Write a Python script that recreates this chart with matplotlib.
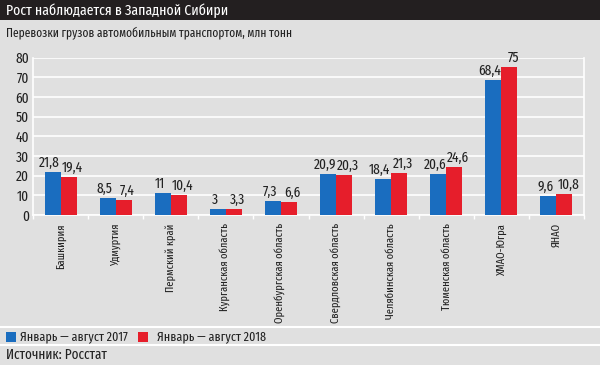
import matplotlib
matplotlib.use("Agg")
import matplotlib.pyplot as plt
import numpy as np

plt.rcParams['font.family'] = ['Fira Sans Extra Condensed', 'Fira Sans Condensed', 'DejaVu Sans']

regions = ["Башкирия", "Удмуртия", "Пермский край", "Курганская область",
           "Оренбургская область", "Свердловская область", "Челябинская область",
           "Тюменская область", "ХМАО-Югра", "ЯНАО"]
v2017 = [21.8, 8.5, 11, 3, 7.3, 20.9, 18.4, 20.6, 68.4, 9.6]
v2018 = [19.4, 7.4, 10.4, 3.3, 6.6, 20.3, 21.3, 24.6, 75, 10.8]
yticks = [0, 10, 20, 30, 40, 50, 60, 70, 80]

bg = '#e0e0e0'
blue = '#1a6dbf'
red = '#e61e2b'
ink = '#222222'
W, H = 600, 365

fig = plt.figure(figsize=(6, 3.65), dpi=100, facecolor=bg)

# title bar
fig.patches.append(plt.Rectangle((0, 1 - 20 / H), 1, 20 / H, transform=fig.transFigure,
                                 facecolor='#231f20', edgecolor='none'))
fig.text(6 / W, 1 - 10.5 / H, "Рост наблюдается в Западной Сибири", color='white',
         fontsize=10.8, va='center', ha='left')
fig.text(6 / W, 1 - 33 / H, "Перевозки грузов автомобильным транспортом, млн тонн",
         color=ink, fontsize=9, va='center', ha='left')

ax = fig.add_axes([33 / W, 1 - 215 / H, (584 - 33) / W, (215 - 57.5) / H])
ax.set_facecolor(bg)
x = np.arange(len(regions))
w = 0.29
b1 = ax.bar(x - w / 2, v2017, w, color=blue, zorder=3)
b2 = ax.bar(x + w / 2, v2018, w, color=red, zorder=3)

def fmt(v):
    return ("%g" % v).replace('.', ',')

for bars, vals, dx in ((b1, v2017, -0.06), (b2, v2018, 0.07)):
    for r, v in zip(bars, vals):
        ax.text(r.get_x() + r.get_width() / 2 + dx, v + 1, fmt(v), ha='center', va='bottom',
                fontsize=10.5, color=ink, zorder=4)

ax.set_xlim(-0.5, len(regions) - 0.5)
ax.set_ylim(0, 80)
ax.set_yticks(yticks)
ax.set_yticklabels([str(t) for t in yticks], fontsize=10.5, color=ink)
ax.yaxis.grid(True, color='white', linewidth=1.2, zorder=0)
ax.tick_params(axis='y', length=0, pad=3)
ax.set_xticks(x)
ax.set_xticklabels(regions, rotation=90, fontsize=8.2, color=ink, va='top')
ax.tick_params(axis='x', length=0, pad=6)
ax.set_xticks(np.arange(-0.5, len(regions)), minor=True)
ax.tick_params(axis='x', which='minor', length=3, color='white', width=1)
ax.spines['top'].set_visible(False)
for s in ('left', 'right', 'bottom'):
    ax.spines[s].set_color('white')
    ax.spines[s].set_linewidth(1.2)

# separators
for yy in (327, 345):
    fig.add_artist(plt.Line2D([0, 1], [1 - yy / H, 1 - yy / H], transform=fig.transFigure,
                              color='white', linewidth=1.5))

# legend
ly = 1 - 336.5 / H
fig.patches.append(plt.Rectangle((6 / W, ly - 5 / H), 10 / W, 10 / H, transform=fig.transFigure,
                                 facecolor=blue, edgecolor='none'))
fig.text(20 / W, ly, "Январь — август 2017", fontsize=9.4, va='center', ha='left', color=ink)
fig.patches.append(plt.Rectangle((138 / W, ly - 5 / H), 10 / W, 10 / H, transform=fig.transFigure,
                                 facecolor=red, edgecolor='none'))
fig.text(157 / W, ly, "Январь — август 2018", fontsize=9.4, va='center', ha='left', color=ink)

fig.text(6 / W, 1 - 355 / H, "Источник: Росстат", fontsize=10.3, va='center', ha='left', color=ink)

fig.savefig("out.png", dpi=100, facecolor=bg)
